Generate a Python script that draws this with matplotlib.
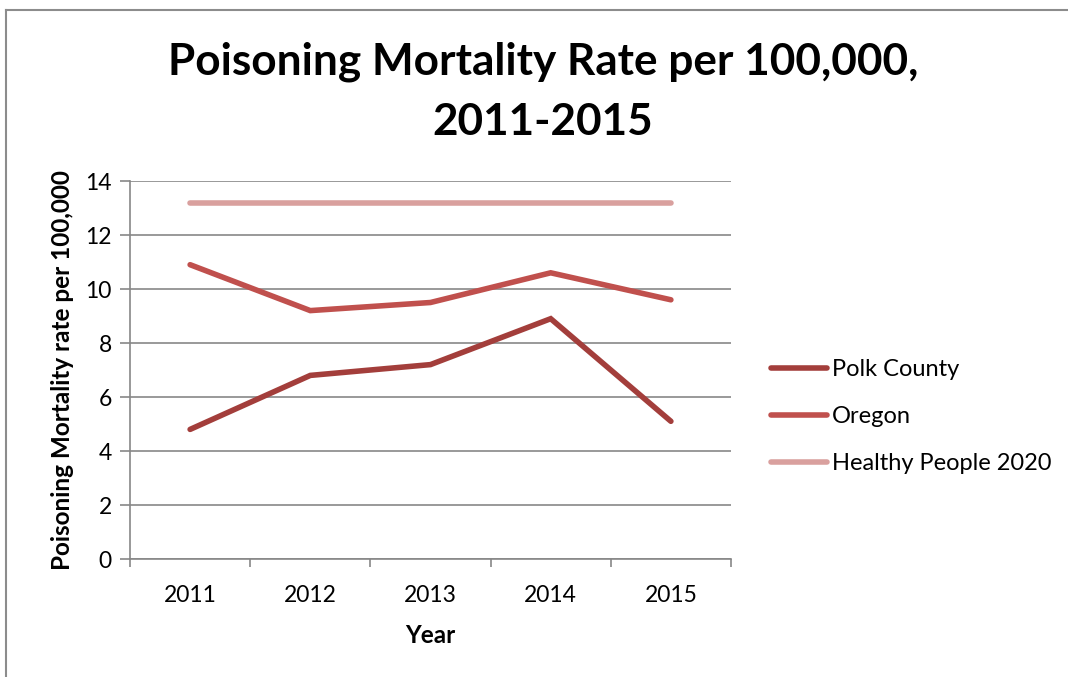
import matplotlib
matplotlib.use("Agg")
import matplotlib.pyplot as plt
from matplotlib.lines import Line2D

years = ["2011", "2012", "2013", "2014", "2015"]
polk = [4.8, 6.8, 7.2, 8.9, 5.1]
oregon = [10.9, 9.2, 9.5, 10.6, 9.6]
hp2020 = [13.2, 13.2, 13.2, 13.2, 13.2]
series_names = ["Polk County", "Oregon", "Healthy People 2020"]
colors = ["#A33E3B", "#C0504D", "#D9A09E"]

plt.rcParams['font.family'] = ['Lato', 'DejaVu Sans']

W, H = 1068, 677
fig = plt.figure(figsize=(W/100, H/100), dpi=100)
fig.patch.set_facecolor("white")
# outer chart border (only left/top visible)
fig.add_artist(Line2D([6/W, 6/W], [0, 1 - 10/H], transform=fig.transFigure,
                      color="#8C8C8C", linewidth=1.5))
fig.add_artist(Line2D([6/W, 1.0], [1 - 10/H, 1 - 10/H], transform=fig.transFigure,
                      color="#8C8C8C", linewidth=1.5))

ax = fig.add_axes([130/W, 1 - 559/H, (731-130)/W, (559-181)/H])
x = list(range(len(years)))
for vals, name, c in zip([polk, oregon, hp2020], series_names, colors):
    ax.plot(x, vals, color=c, linewidth=4.0, solid_capstyle="round", solid_joinstyle="miter", label=name)

ax.set_xlim(-0.5, len(years) - 0.5)
ax.set_ylim(0, 14)
ax.set_yticks(range(0, 15, 2))
ax.set_xticks([i - 0.5 for i in range(len(years) + 1)])
ax.set_xticklabels([])
ax.set_xticks(x, minor=True)
ax.set_xticklabels(years, minor=True)
ax.tick_params(axis="x", which="minor", length=0, pad=19, labelsize=16.5)
ax.tick_params(axis="x", which="major", length=6, color="#878787", width=1.2, direction="out")
ax.tick_params(axis="y", length=7, color="#878787", width=1.2, direction="out", labelsize=16.5, pad=6)
ax.grid(axis="y", color="#878787", linewidth=1.2)
ax.set_axisbelow(True)
for s in ["top", "right"]:
    ax.spines[s].set_visible(False)
for s in ["left", "bottom"]:
    ax.spines[s].set_color("#878787")
    ax.spines[s].set_linewidth(1.2)

ax.set_xlabel("Year", fontsize=17.5, fontweight="bold", labelpad=13)
ax.set_ylabel("Poisoning Mortality rate per 100,000", fontsize=17.5, fontweight="bold", labelpad=8)

fig.text(543/W, 1 - 62/H, "Poisoning Mortality Rate per 100,000,", ha="center", va="center",
         fontsize=31.8, fontweight="bold")
fig.text(543/W, 1 - 122/H, "2011-2015", ha="center", va="center",
         fontsize=31.8, fontweight="bold")

handles = [Line2D([0], [0], color=c, linewidth=4.0, solid_capstyle="round") for c in colors]
fig.legend(handles, series_names, loc="upper left", bbox_to_anchor=(762/W, 1 - 350/H),
           borderaxespad=0, frameon=False, fontsize=17, handlelength=2.35,
           handletextpad=0.2, labelspacing=1.1)

fig.savefig("out.png", dpi=100, facecolor="white")
